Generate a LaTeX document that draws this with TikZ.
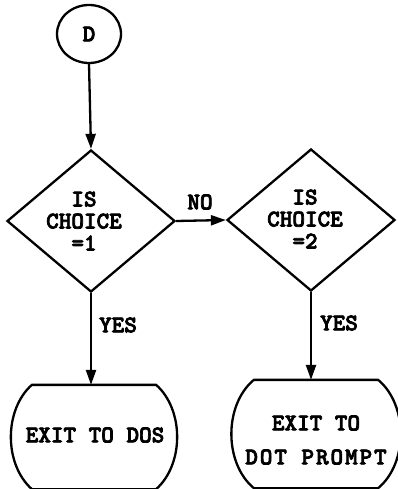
\documentclass[tikz,border=0pt]{standalone}
\usepackage{fontspec}
\newfontfamily\flowfont{lmmonolt10-bold.otf}[FakeBold=3]
\usetikzlibrary{shapes.geometric,arrows.meta}
\begin{document}
\begin{tikzpicture}[x=1pt,y=-1pt,line width=2.3pt,
  font=\fontsize{24}{22}\flowfont,
  >={Triangle[length=15pt,width=10pt]},
  connector/.style={->},
  decision/.style={diamond,draw,inner sep=0pt,minimum width=168pt,minimum height=142pt},
  terminal/.style={ellipse,draw,inner sep=0pt,minimum width=64pt,minimum height=58pt},
  exitbox/.style={rectangle,draw=none,inner sep=0pt,minimum width=122pt},
  lbl/.style={inner sep=0pt,align=center}]
\useasboundingbox (0,0) rectangle (398,489);

% start connector and decisions
\node[terminal] (D) at (89,34) {D};
\node[decision] (d1) at (91,221) {};
\node[decision] (d2) at (311,220) {};
\node[lbl] (t1) at (84,221) {IS\\CHOICE\\=1};
\node[lbl] (t2) at (305,219) {IS\\CHOICE\\=2};

% exit boxes: flat top and bottom, bulging sides
\node[exitbox,minimum height=102pt] (b1) at (94,437) {};
\node[exitbox,minimum height=106pt] (b2) at (316,434) {};
\foreach \b/\d in {b1/28,b2/30}{
  \draw[line join=round]
    (\b.north west) -- (\b.north east)
    .. controls ([xshift=\d pt,yshift=-25pt]\b.north east) and ([xshift=\d pt,yshift=25pt]\b.south east) .. (\b.south east)
    -- (\b.south west)
    .. controls ([xshift=-\d pt,yshift=25pt]\b.south west) and ([xshift=-\d pt,yshift=-25pt]\b.north west) .. cycle;
}
\node[lbl] (e1) at (95,435) {EXIT TO DOS};
\node[lbl,font=\fontsize{24}{34}\flowfont] (e2) at (316,440)
  {EXIT TO\\{\addfontfeature{LetterSpace=8}DOT PROMPT}};

% connectors
\draw[connector] (D.south) -- (d1.north);
\draw[connector] (d1.east) -- (d2.west);
\draw[connector] (d1.south) -- (d1.south |- b1.north);
\draw[connector] (d2.south) -- (d2.south |- b2.north);

% branch labels
\node[lbl] (no) at (200,202) {NO};
\node[lbl] (yes1) at (118,325) {YES};
\node[lbl] (yes2) at (339,323) {YES};
\end{tikzpicture}
\end{document}
